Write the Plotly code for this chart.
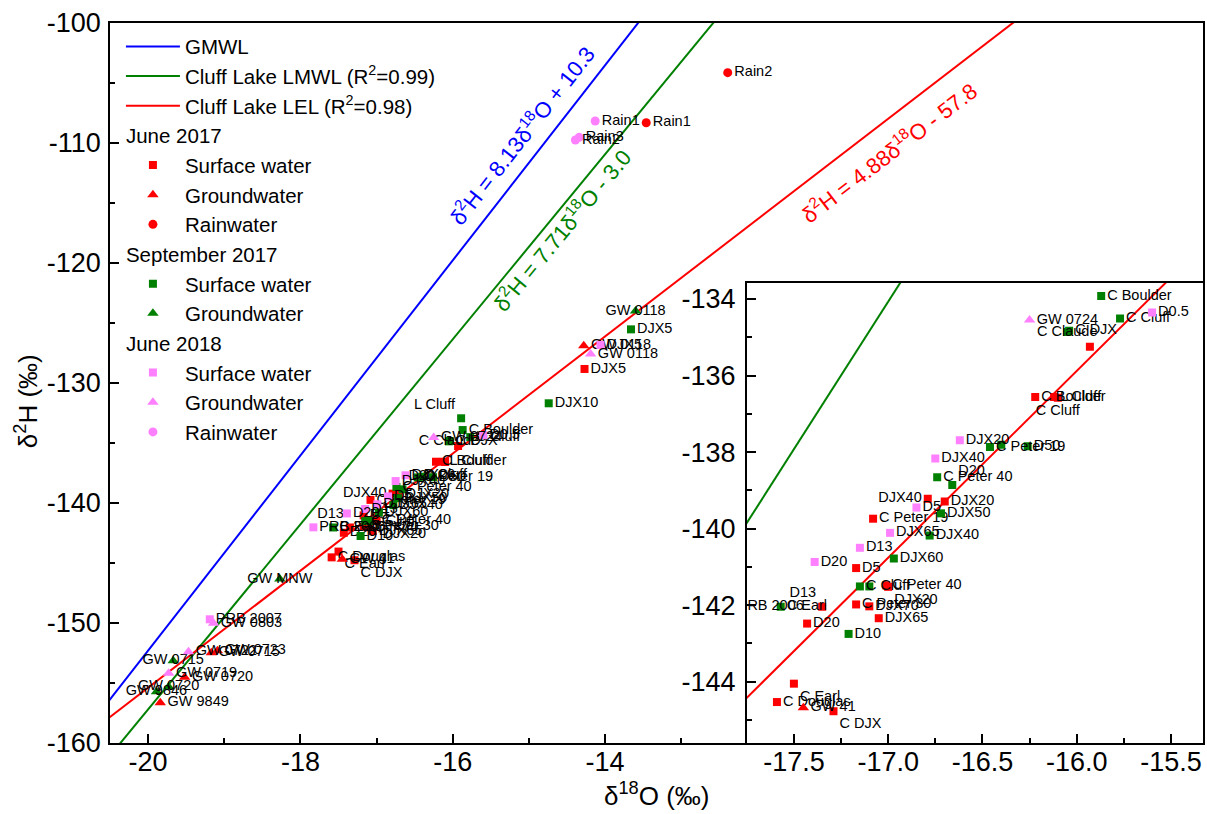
import plotly.graph_objects as go

FONT = "Liberation Sans, Arial, sans-serif"
RED, GREEN, PINK, BLUE = "#ff0000", "#008000", "#ff80ff", "#0000ff"

# ---------------- regression / reference lines (from equations printed on chart)
gmwl_slope, gmwl_int = 8.13, 10.3
lmwl_slope, lmwl_int = 7.71, -3.0
lel_slope, lel_int = 4.88, -57.8
line_x = [-21.0, -6.0]

# ---------------- June 2017 (red)
j17_sw_x = [-15.93, -16.22, -16.12, -16.10, -16.79, -16.70, -17.08, -17.17, -17.01, -17.00,
            -17.17, -17.10, -17.05, -17.43, -17.35, -17.59, -17.50, -17.29, -14.27]
j17_sw_y = [-135.25, -136.56, -136.56, -136.58, -139.22, -139.29, -139.74, -141.03, -141.48, -141.52,
            -141.98, -142.03, -142.34, -142.48, -142.04, -144.53, -144.05, -144.77, -128.83]
j17_sw_lab = ["", "C Boulder", "L Cluff", "C Cluff", "DJX40", "DJX20", "C Peter 19", "D5", "C Peter 40", "DJX20",
              "C Peter 30", "DJX70", "DJX65", "D20", "D13", "C Douglas", "C Earl", "C DJX", "DJX5"]

j17_gw_x = [-17.45, -14.28, -19.17, -19.09, -19.52, -19.84]
j17_gw_y = [-144.68, -126.89, -152.47, -152.31, -154.53, -156.64]
j17_gw_lab = ["GW 41", "GW 0118", "GW 0715", "GW 0723", "GW 0720", "GW 9849"]

j17_rw_x = [-13.46, -12.39]
j17_rw_y = [-108.31, -104.14]
j17_rw_lab = ["Rain1", "Rain2"]

# ---------------- September 2017 (green)
s17_sw_x = [-15.87, -15.77, -16.04, -16.05, -16.46, -16.40, -16.26, -16.74, -16.66, -16.72,
            -16.78, -16.97, -17.15, -17.10, -17.21, -17.57, -15.89, -13.66, -14.74]
s17_sw_y = [-133.92, -134.51, -134.83, -134.86, -137.87, -137.81, -137.85, -138.66, -138.86, -139.60,
            -140.18, -140.78, -141.51, -141.51, -142.75, -142.04, -132.94, -125.53, -131.69]
s17_sw_lab = ["C Boulder", "C Cluff", "C DJX", "C Claude", "C Peter 19", "", "D50", "C Peter 40", "D20", "DJX50",
              "DJX40", "DJX60", "C Cluff", "", "D10", "C Earl", "L Cluff", "DJX5", "DJX10"]

s17_gw_x = [-13.60, -18.27, -19.67, -19.73, -19.89]
s17_gw_y = [-124.00, -146.33, -153.14, -155.31, -155.72]
s17_gw_lab = ["GW 0118", "GW MNW", "GW 0715", "GW 0720", "GW 9846"]

# ---------------- June 2018 (pink)
j18_sw_x = [-15.60, -16.62, -16.75, -16.85, -16.99, -17.15, -17.39, -17.83, -14.06, -19.19]
j18_sw_y = [-134.35, -137.69, -138.17, -139.45, -140.11, -140.50, -140.87, -142.03, -126.83, -149.69]
j18_sw_lab = ["D0.5", "DJX20", "DJX40", "D5", "DJX65", "D13", "D20", "PRB 2006", "DJX5", "PRB 2007"]

j18_gw_x = [-16.25, -14.19, -19.14, -19.47, -19.73]
j18_gw_y = [-134.55, -127.58, -150.03, -152.39, -154.19]
j18_gw_lab = ["GW 0724", "GW 0118", "GW 0803", "GW 0722", "GW 0719"]

j18_rw_x = [-14.13, -14.34, -14.39]
j18_rw_y = [-108.17, -109.53, -109.75]
j18_rw_lab = ["Rain1", "Rain3", "Rain2"]

# ---------------- axis ticks
main_xticks = [-20, -18, -16, -14]
main_yticks = [-160, -150, -140, -130, -120, -110, -100]
ins_xticks = [-17.5, -17.0, -16.5, -16.0, -15.5]
ins_yticks = [-144, -142, -140, -138, -136, -134]

# ---------------- label placement (style)
R, L, C = "middle right", "middle left", "middle center"
j17_sw_pos = [R, R, R, "bottom center", L, R, R, R, R, "bottom right",
              R, R, R, R, "top left", R, "bottom right", "bottom right", R]
j17_gw_pos = [R] * 6
j17_rw_pos = [R] * 2
s17_sw_pos = [R, R, R, C, R, R, R, R, "top right", R,
              R, R, R, R, R, R, "top left", R, R]
s17_gw_pos = [C] * 5
j18_sw_pos = [R] * 10
j18_gw_pos = [R] * 5
j18_rw_pos = [R] * 3

fig = go.Figure()

# lines (main)
for nm, s, b, col in [("GMWL", gmwl_slope, gmwl_int, BLUE),
                      ("Cluff Lake LMWL (R<sup>2</sup>=0.99)", lmwl_slope, lmwl_int, GREEN),
                      ("Cluff Lake LEL (R<sup>2</sup>=0.98)", lel_slope, lel_int, RED)]:
    fig.add_trace(go.Scatter(x=line_x, y=[s * v + b for v in line_x], mode="lines",
                             line=dict(color=col, width=2), name=nm,
                             xaxis="x", yaxis="y", hoverinfo="skip"))

series = [
    ("j17", "June 2017", "Surface water", j17_sw_x, j17_sw_y, j17_sw_lab, j17_sw_pos, RED, "square", 8),
    ("j17", "June 2017", "Groundwater", j17_gw_x, j17_gw_y, j17_gw_lab, j17_gw_pos, RED, "triangle-up", 10),
    ("j17", "June 2017", "Rainwater", j17_rw_x, j17_rw_y, j17_rw_lab, j17_rw_pos, RED, "circle", 9),
    ("s17", "September 2017", "Surface water", s17_sw_x, s17_sw_y, s17_sw_lab, s17_sw_pos, GREEN, "square", 8),
    ("s17", "September 2017", "Groundwater", s17_gw_x, s17_gw_y, s17_gw_lab, s17_gw_pos, GREEN, "triangle-up", 10),
    ("j18", "June 2018", "Surface water", j18_sw_x, j18_sw_y, j18_sw_lab, j18_sw_pos, PINK, "square", 8),
    ("j18", "June 2018", "Groundwater", j18_gw_x, j18_gw_y, j18_gw_lab, j18_gw_pos, PINK, "triangle-up", 10),
    ("j18", "June 2018", "Rainwater", j18_rw_x, j18_rw_y, j18_rw_lab, j18_rw_pos, PINK, "circle", 9),
]

LEG_FS = 20.5
seen = set()
for grp, gtitle, nm, xs, ys, labs, pos, col, sym, sz in series:
    kw = {}
    if grp not in seen:
        kw["legendgrouptitle"] = dict(text=gtitle, font=dict(size=LEG_FS, color="black", family=FONT))
        seen.add(grp)
    fig.add_trace(go.Scatter(x=xs, y=ys, mode="markers+text", text=labs, textposition=pos,
                             textfont=dict(size=14.5, color="black", family=FONT),
                             marker=dict(color=col, symbol=sym, size=sz, line=dict(width=0)),
                             name=nm, legendgroup=grp, xaxis="x", yaxis="y", hoverinfo="skip", **kw))

# inset lines
for s, b, col in [(lmwl_slope, lmwl_int, GREEN), (lel_slope, lel_int, RED)]:
    fig.add_trace(go.Scatter(x=line_x, y=[s * v + b for v in line_x], mode="lines",
                             line=dict(color=col, width=2), showlegend=False,
                             xaxis="x2", yaxis="y2", hoverinfo="skip"))
for grp, gtitle, nm, xs, ys, labs, pos, col, sym, sz in series:
    fig.add_trace(go.Scatter(x=xs, y=ys, mode="markers+text", text=labs, textposition=pos,
                             textfont=dict(size=14.5, color="black", family=FONT),
                             marker=dict(color=col, symbol=sym, size=sz, line=dict(width=0)),
                             showlegend=False, xaxis="x2", yaxis="y2", hoverinfo="skip"))

axis_common = dict(showline=True, linecolor="black", linewidth=1.5, mirror=True,
                   ticks="inside", tickcolor="black", tickwidth=1.5, ticklen=9,
                   showgrid=False, zeroline=False,
                   tickfont=dict(size=27, color="black", family=FONT))

def fmt(v, nd=0):
    return f"{v:.{nd}f}"

fig.update_layout(
    width=1207, height=814,
    margin=dict(l=110, r=2, t=23, b=71),
    paper_bgcolor="white", plot_bgcolor="white",
    font=dict(family=FONT, color="black"),
    xaxis=dict(domain=[0, 1], range=[-20.5, -6.15], tickvals=main_xticks,
               ticktext=[fmt(v) for v in main_xticks], ticklabelstandoff=-6,
               minor=dict(tickvals=[-19, -17, -15, -13], ticklen=5, tickwidth=1.5, tickcolor="black", ticks="inside"),
               anchor="y", **axis_common),
    yaxis=dict(domain=[0, 1], range=[-160, -100], tickvals=main_yticks,
               ticktext=[fmt(v) for v in main_yticks], ticklabelstandoff=2,
               minor=dict(dtick=5, ticklen=5, tickwidth=1.5, tickcolor="black", ticks="inside"),
               anchor="x", **axis_common),
    xaxis2=dict(domain=[0.5826, 1.0], range=[-17.75, -15.33], tickvals=ins_xticks,
                ticktext=[fmt(v, 1) for v in ins_xticks], ticklabelstandoff=-6,
                minor=dict(dtick=0.25, tick0=-17.5, ticklen=5, tickwidth=1.5, tickcolor="black", ticks="inside"),
                anchor="y2", **axis_common),
    yaxis2=dict(domain=[0, 0.639], range=[-145.6, -133.58], tickvals=ins_yticks,
                ticktext=[fmt(v) for v in ins_yticks], ticklabelstandoff=4,
                minor=dict(dtick=1, ticklen=5, tickwidth=1.5, tickcolor="black", ticks="inside"),
                anchor="x2", **axis_common),
    legend=dict(x=0.01, y=0.995, xanchor="left", yanchor="top", bgcolor="rgba(0,0,0,0)",
                font=dict(size=LEG_FS, color="black", family=FONT), itemwidth=54,
                tracegroupgap=0, traceorder="grouped"),
    showlegend=True,
)

anns = [
    dict(text="δ<sup>2</sup>H (‰)", x=-0.0767, y=0.475, textangle=-90, font=dict(size=26)),
    dict(text="δ<sup>18</sup>O (‰)", x=0.5, y=-0.072, font=dict(size=26)),
    dict(text="δ<sup>2</sup>H = 8.13δ<sup>18</sup>O + 10.3", x=0.3763, y=0.8444, textangle=-52,
         font=dict(size=22, color=BLUE)),
    dict(text="δ<sup>2</sup>H = 7.71δ<sup>18</sup>O - 3.0", x=0.4128, y=0.7125, textangle=-50.5,
         font=dict(size=22, color=GREEN)),
    dict(text="δ<sup>2</sup>H = 4.88δ<sup>18</sup>O - 57.8", x=0.7123, y=0.8208, textangle=-37.5,
         font=dict(size=22, color=RED)),
]
for a in anns:
    a.update(xref="paper", yref="paper", showarrow=False, xanchor="center", yanchor="middle")
    a["font"] = dict(family=FONT, color=a["font"].get("color", "black"), size=a["font"]["size"])
fig.update_layout(annotations=anns)

fig.write_html("out.html")
